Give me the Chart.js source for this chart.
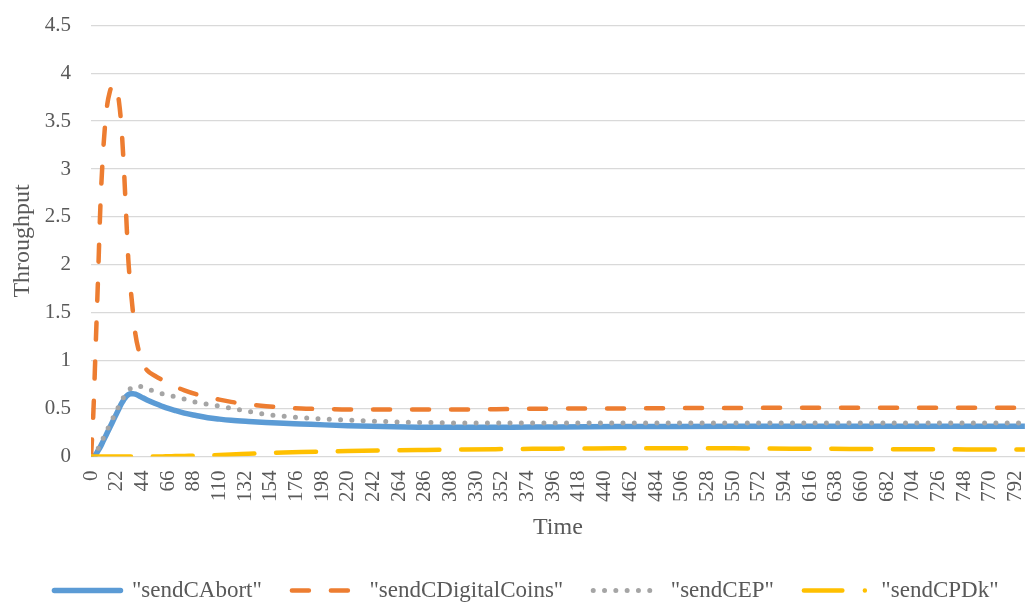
<!DOCTYPE html>
<html>
<head>
<meta charset="utf-8">
<title>Throughput over time</title>
<script src="https://cdn.jsdelivr.net/npm/chart.js@4.4.1/dist/chart.umd.min.js"></script>
<style>
  html, body { margin: 0; padding: 0; background: #ffffff; overflow: hidden; }
  #wrap { position: relative; width: 1055px; height: 603px; }
</style>
</head>
<body>
<div id="wrap"><canvas id="chart" width="1055" height="603"></canvas></div>
<script>
// Sample times (x) shared by every series
const time = [0, 2, 4, 6, 8, 10, 12, 14, 16, 18, 20, 22, 24, 26, 28, 30, 32, 34, 36, 38,
  41, 44, 48, 55, 64, 72, 80, 90, 100, 110, 120, 135, 150, 165, 180, 200, 220, 250, 280, 320,
  360, 400, 450, 500, 550, 600, 650, 700, 750, 800];

// Throughput per series
const sendCAbort = [0, 0, 0.02, 0.06, 0.1, 0.15, 0.2, 0.25, 0.3, 0.35, 0.4, 0.45, 0.5, 0.55, 0.59, 0.625, 0.645, 0.655, 0.655, 0.65,
  0.635, 0.615, 0.59, 0.553, 0.51, 0.48, 0.453, 0.428, 0.405, 0.39, 0.378, 0.366, 0.356, 0.347, 0.34, 0.33, 0.322, 0.312, 0.306, 0.304,
  0.306, 0.309, 0.312, 0.314, 0.315, 0.315, 0.315, 0.315, 0.315, 0.315];
const sendCDigitalCoins = [0, 0.45, 1.15, 1.85, 2.6, 3.1, 3.45, 3.68, 3.8, 3.87, 3.88, 3.83, 3.7, 3.45, 3.05, 2.55, 2.05, 1.75, 1.5, 1.28,
  1.1, 0.98, 0.9, 0.84, 0.78, 0.73, 0.69, 0.65, 0.62, 0.593, 0.57, 0.545, 0.525, 0.51, 0.5, 0.495, 0.49, 0.49, 0.49, 0.49,
  0.495, 0.5, 0.5, 0.505, 0.505, 0.51, 0.51, 0.51, 0.51, 0.51];
const sendCEP = [0, 0.01, 0.04, 0.08, 0.13, 0.18, 0.23, 0.28, 0.33, 0.38, 0.43, 0.48, 0.53, 0.58, 0.62, 0.66, 0.69, 0.71, 0.725, 0.735,
  0.735, 0.725, 0.71, 0.675, 0.645, 0.625, 0.6, 0.565, 0.545, 0.525, 0.505, 0.47, 0.44, 0.42, 0.405, 0.39, 0.38, 0.365, 0.356, 0.35,
  0.35, 0.35, 0.35, 0.35, 0.35, 0.35, 0.35, 0.35, 0.35, 0.35];
const sendCPDk = [0, 0, 0, 0, 0, 0, 0, 0, 0, 0, 0, 0, 0, 0, 0, 0, 0, 0, 0, 0,
  0, 0, 0, 0, 0.002, 0.004, 0.006, 0.008, 0.012, 0.016, 0.022, 0.028, 0.035, 0.042, 0.047, 0.052, 0.057, 0.063, 0.068, 0.074,
  0.078, 0.082, 0.085, 0.086, 0.085, 0.082, 0.079, 0.076, 0.074, 0.072];

const seriesNames = ['"sendCAbort"', '"sendCDigitalCoins"', '"sendCEP"', '"sendCPDk"'];

// Axis tick labels
const timeTicks = [0, 22, 44, 66, 88, 110, 132, 154, 176, 198, 220, 242, 264, 286, 308, 330, 352, 374,
  396, 418, 440, 462, 484, 506, 528, 550, 572, 594, 616, 638, 660, 682, 704, 726, 748, 770, 792];
const throughputTicks = [0, 0.5, 1, 1.5, 2, 2.5, 3, 3.5, 4, 4.5];

const FONT = '"Liberation Serif", "Times New Roman", Times, serif';
const TEXT = '#595959';

const toPoints = (ys) => ys.map((y, i) => ({ x: time[i], y }));

const lineBase = {
  pointRadius: 0,
  pointHoverRadius: 0,
  fill: false,
  cubicInterpolationMode: 'monotone',
  borderCapStyle: 'round',
  borderJoinStyle: 'round'
};

new Chart(document.getElementById('chart'), {
  type: 'line',
  data: {
    datasets: [
      Object.assign({}, lineBase, {
        label: seriesNames[0], data: toPoints(sendCAbort),
        borderColor: '#5B9BD5', backgroundColor: '#5B9BD5', borderWidth: 5.5, order: 4
      }),
      Object.assign({}, lineBase, {
        label: seriesNames[1], data: toPoints(sendCDigitalCoins),
        borderColor: '#ED7D31', backgroundColor: '#ED7D31', borderWidth: 4.5,
        borderDash: [17, 22], order: 3
      }),
      Object.assign({}, lineBase, {
        label: seriesNames[2], data: toPoints(sendCEP),
        borderColor: '#A5A5A5', backgroundColor: '#A5A5A5', borderWidth: 5,
        borderDash: [0, 11.3], order: 2
      }),
      Object.assign({}, lineBase, {
        label: seriesNames[3], data: toPoints(sendCPDk),
        borderColor: '#FFC000', backgroundColor: '#FFC000', borderWidth: 4.5,
        borderDash: [40, 21.7], legendDash: [38.5, 22.5, 0, 30], order: 1
      })
    ]
  },
  options: {
    responsive: false,
    animation: false,
    events: [],
    layout: { padding: { top: 10, right: 26, bottom: -9, left: 24 } },
    plugins: {
      tooltip: { enabled: false },
      legend: {
        position: 'bottom',
        labels: {
          usePointStyle: true,
          pointStyle: 'line',
          pointStyleWidth: 66,
          padding: 30,
          color: TEXT,
          font: { family: FONT, size: 23 },
          sort: (a, b) => a.datasetIndex - b.datasetIndex,
          generateLabels(chart) {
            const items = Chart.defaults.plugins.legend.labels.generateLabels(chart);
            items.forEach((it) => {
              const ds = chart.data.datasets[it.datasetIndex];
              it.lineDash = ds.legendDash || ds.borderDash || [];
              it.lineCap = 'round';
              it.lineWidth = ds.borderWidth;
            });
            return items;
          }
        }
      }
    },
    scales: {
      x: {
        type: 'linear',
        min: 0,
        max: 800,
        afterBuildTicks: (scale) => { scale.ticks = timeTicks.map((v) => ({ value: v })); },
        afterFit: (scale) => { scale.height = 92.5; },
        ticks: {
          autoSkip: false,
          minRotation: 90,
          maxRotation: 90,
          padding: 14,
          color: TEXT,
          font: { family: FONT, size: 21 },
          callback: (v) => String(v)
        },
        grid: { display: false, drawTicks: false },
        border: { display: false },
        title: {
          display: true,
          text: 'Time',
          color: TEXT,
          font: { family: FONT, size: 24 },
          padding: { top: 4, bottom: 7 }
        }
      },
      y: {
        min: 0,
        max: 4.5,
        afterBuildTicks: (scale) => { scale.ticks = throughputTicks.map((v) => ({ value: v })); },
        afterFit: (scale) => { scale.width = 67; },
        ticks: {
          padding: 20,
          color: TEXT,
          font: { family: FONT, size: 21, lineHeight: 0.5 },
          callback: (v) => String(v)
        },
        grid: { color: '#D9D9D9', lineWidth: 1.3, drawTicks: false },
        border: { display: false },
        title: {
          display: true,
          text: 'Throughput',
          color: TEXT,
          font: { family: FONT, size: 24 },
          padding: { top: -15.4, bottom: 4 }
        }
      }
    }
  }
});
</script>
</body>
</html>
